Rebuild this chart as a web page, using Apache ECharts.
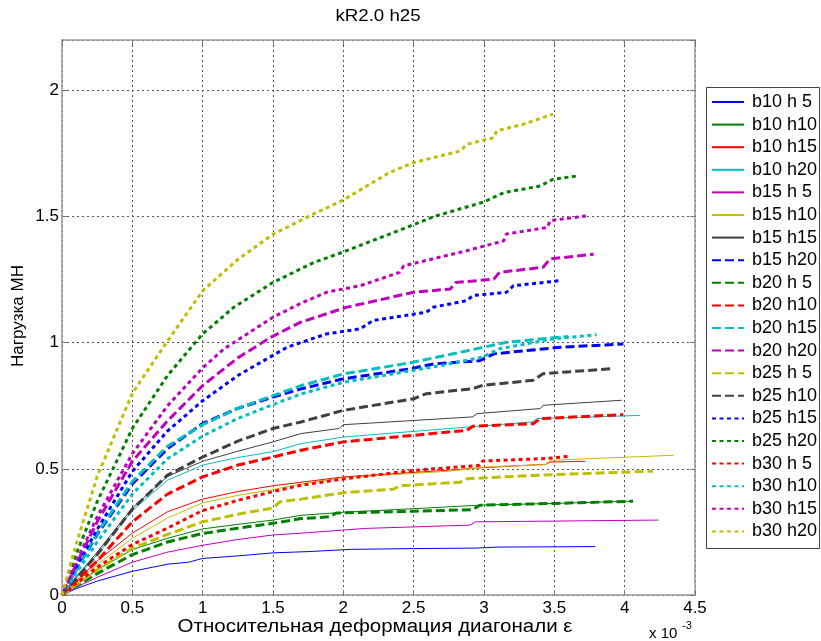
<!DOCTYPE html>
<html><head><meta charset="utf-8">
<script src="https://cdn.jsdelivr.net/npm/echarts@6/dist/echarts.min.js"></script>
<style>html,body{margin:0;padding:0;background:#fff}#c{width:821px;height:641px}</style>
</head><body><div id="c"></div>
<script>
const xTicks = [0,0.5,1,1.5,2,2.5,3,3.5,4,4.5];
const yTicks = [0,0.5,1,1.5,2];
const seriesNames = ['b10 h 5','b10 h10','b10 h15','b10 h20','b15 h 5','b15 h10','b15 h15','b15 h20','b20 h 5','b20 h10','b20 h15','b20 h20','b25 h 5','b25 h10','b25 h15','b25 h20','b30 h 5','b30 h10','b30 h15','b30 h20'];

const b10h5 = [[0,0],[0.1,0.025],[0.25,0.055],[0.5,0.094],[0.75,0.122],[0.9,0.13],[1.0,0.145],[1.25,0.155],[1.5,0.167],[1.75,0.172],[2.06,0.181],[2.5,0.184],[2.95,0.186],[3.1,0.19],[3.5,0.191],[3.79,0.192]];
const b10h10 = [[0,0],[0.1,0.04],[0.25,0.1],[0.5,0.18],[0.75,0.225],[1.0,0.262],[1.25,0.28],[1.5,0.297],[1.7,0.316],[2.0,0.328],[2.6,0.345],[3.0,0.357],[3.5,0.363],[4.04,0.372]];
const b10h15 = [[0,0],[0.1,0.055],[0.25,0.135],[0.5,0.245],[0.75,0.33],[1.0,0.38],[1.25,0.41],[1.5,0.433],[1.7,0.447],[2.0,0.468],[2.73,0.494],[3.0,0.505],[3.44,0.518],[3.47,0.527],[3.72,0.53]];
const b10h20 = [[0,0],[0.1,0.065],[0.25,0.16],[0.5,0.335],[0.75,0.455],[1.0,0.515],[1.25,0.545],[1.5,0.568],[1.7,0.6],[2.0,0.626],[2.73,0.659],[3.35,0.686],[3.37,0.699],[4.11,0.712]];
const b15h5 = [[0,0],[0.1,0.03],[0.25,0.07],[0.5,0.13],[0.75,0.17],[1.0,0.197],[1.25,0.22],[1.5,0.238],[1.7,0.245],[2.16,0.264],[2.9,0.277],[2.94,0.29],[3.5,0.293],[4.24,0.297]];
const b15h10 = [[0,0],[0.1,0.05],[0.25,0.12],[0.5,0.225],[0.75,0.305],[1.0,0.365],[1.25,0.395],[1.5,0.418],[1.7,0.44],[2.0,0.465],[2.76,0.491],[3.02,0.508],[3.44,0.517],[3.47,0.534],[4.35,0.554]];
const b15h15 = [[0,0],[0.1,0.07],[0.25,0.17],[0.5,0.345],[0.75,0.47],[1.0,0.53],[1.25,0.57],[1.5,0.607],[1.7,0.64],[1.97,0.66],[2.0,0.675],[2.92,0.706],[2.95,0.719],[3.4,0.739],[3.42,0.752],[3.98,0.772]];
const b15h20 = [[0,0],[0.1,0.1],[0.25,0.24],[0.5,0.44],[0.75,0.58],[1.0,0.68],[1.25,0.74],[1.5,0.785],[1.7,0.817],[2.0,0.857],[2.47,0.896],[2.64,0.916],[2.97,0.929],[3.07,0.956],[3.54,0.982],[3.99,0.995]];
const b20h5 = [[0,0],[0.1,0.035],[0.25,0.085],[0.5,0.16],[0.75,0.21],[1.0,0.244],[1.25,0.265],[1.5,0.284],[1.7,0.303],[1.9,0.31],[1.95,0.325],[2.5,0.332],[2.92,0.338],[2.97,0.356],[3.5,0.363],[4.06,0.372]];
const b20h10 = [[0,0],[0.1,0.055],[0.25,0.135],[0.5,0.29],[0.75,0.4],[1.0,0.468],[1.25,0.515],[1.5,0.547],[1.7,0.574],[2.0,0.607],[2.5,0.633],[2.88,0.653],[2.92,0.669],[3.35,0.679],[3.4,0.699],[3.99,0.715]];
const b20h15 = [[0,0],[0.1,0.1],[0.25,0.245],[0.5,0.45],[0.75,0.59],[1.0,0.675],[1.25,0.74],[1.5,0.79],[1.7,0.83],[2.0,0.876],[2.5,0.923],[2.78,0.956],[3.16,1.002],[3.6,1.025]];
const b20h20 = [[0,0],[0.1,0.12],[0.25,0.29],[0.5,0.53],[0.75,0.69],[1.0,0.83],[1.25,0.94],[1.48,1.02],[1.69,1.08],[2.02,1.14],[2.5,1.2],[2.76,1.213],[2.8,1.239],[3.07,1.252],[3.11,1.279],[3.42,1.299],[3.47,1.332],[3.78,1.351]];
const b25h5 = [[0,0],[0.1,0.04],[0.25,0.1],[0.5,0.185],[0.75,0.24],[1.0,0.29],[1.25,0.32],[1.5,0.345],[1.55,0.37],[1.7,0.38],[2.0,0.405],[2.36,0.42],[2.4,0.433],[2.83,0.447],[2.88,0.461],[3.35,0.474],[4.2,0.491]];
const b25h10 = [[0,0],[0.1,0.065],[0.25,0.16],[0.5,0.34],[0.75,0.475],[1.0,0.547],[1.25,0.61],[1.5,0.66],[1.7,0.686],[2.0,0.732],[2.5,0.778],[2.59,0.798],[2.92,0.818],[2.99,0.831],[3.35,0.851],[3.42,0.877],[3.9,0.897]];
const b25h15 = [[0,0],[0.1,0.11],[0.25,0.26],[0.5,0.49],[0.75,0.65],[1.0,0.77],[1.25,0.87],[1.6,0.982],[1.88,1.035],[2.12,1.055],[2.21,1.088],[2.59,1.121],[2.64,1.141],[2.88,1.167],[2.92,1.187],[3.16,1.2],[3.21,1.226],[3.54,1.246]];
const b25h20 = [[0,0],[0.1,0.16],[0.25,0.37],[0.5,0.66],[0.75,0.87],[1.0,1.035],[1.22,1.14],[1.5,1.239],[1.79,1.318],[2.0,1.36],[2.45,1.457],[2.66,1.503],[3.0,1.558],[3.14,1.595],[3.4,1.621],[3.49,1.648],[3.66,1.661]];
const b30h5 = [[0,0],[0.1,0.045],[0.25,0.11],[0.5,0.2],[0.75,0.265],[1.0,0.335],[1.25,0.375],[1.5,0.41],[1.7,0.435],[2.0,0.46],[2.5,0.494],[2.97,0.514],[2.99,0.531],[3.44,0.541],[3.61,0.55]];
const b30h10 = [[0,0],[0.1,0.085],[0.25,0.21],[0.5,0.4],[0.75,0.54],[1.0,0.63],[1.25,0.7],[1.5,0.755],[1.7,0.797],[2.0,0.843],[2.69,0.909],[2.99,0.943],[3.11,0.976],[3.49,1.015],[3.8,1.032]];
const b30h15 = [[0,0],[0.1,0.13],[0.25,0.31],[0.5,0.56],[0.75,0.75],[1.0,0.9],[1.15,0.975],[1.5,1.101],[1.69,1.154],[1.88,1.2],[2.12,1.226],[2.4,1.279],[2.43,1.305],[2.88,1.365],[3.14,1.404],[3.16,1.431],[3.45,1.457],[3.47,1.484],[3.73,1.503]];
const b30h20 = [[0,0],[0.1,0.2],[0.25,0.47],[0.5,0.8],[0.73,0.99],[1.0,1.206],[1.25,1.33],[1.5,1.43],[1.75,1.5],[2.0,1.566],[2.19,1.629],[2.33,1.675],[2.5,1.714],[2.83,1.76],[2.88,1.787],[3.07,1.813],[3.09,1.84],[3.28,1.866],[3.49,1.906]];

const allData = [b10h5,b10h10,b10h15,b10h20,b15h5,b15h10,b15h15,b15h20,b20h5,b20h10,b20h15,b20h20,b25h5,b25h10,b25h15,b25h20,b30h5,b30h10,b30h15,b30h20];
const colorCycle = ['#0000ff','#008000','#ff0000','#00bfbf','#bf00bf','#bfbf00','#404040'];
const styleCycle = ['solid','dashed','dotted'];

const FONT = 'Liberation Sans, Arial, sans-serif';
const chart = echarts.init(document.getElementById('c'), null, {renderer:'canvas'});

const series = allData.map((d,i)=>{
  const st = styleCycle[Math.floor(i/7)];
  const type = st==='solid' ? 'solid' : (st==='dashed' ? [9,4] : [4,3.5]);
  return {
    name: seriesNames[i], type:'line', data:d, symbol:'none', animation:false,
    lineStyle:{color:colorCycle[i%7], width: st==='solid'?1:3, type:type, cap:'butt'},
    itemStyle:{color:colorCycle[i%7]}
  };
});

const grid = {left:62, top:40, right:126, bottom:46, show:false};
const axisLab = {color:'#000', fontSize:17, fontFamily:FONT};
chart.setOption({
  backgroundColor:'#fff',
  animation:false,
  grid: grid,
  xAxis:[{
    type:'value', min:xTicks[0], max:xTicks[xTicks.length-1], interval:0.5,
    axisLine:{show:true, onZero:false, lineStyle:{color:'#999', width:1.5}},
    axisTick:{show:true, inside:true, length:5, lineStyle:{color:'#777'}},
    axisLabel:Object.assign({margin:5, formatter:v=>String(v)}, axisLab),
    splitLine:{show:true, lineStyle:{color:'#555', type:[2,3], width:1}}
  },{
    type:'value', position:'top', min:0, max:4.5, interval:0.5,
    axisLine:{show:true, onZero:false, lineStyle:{color:'#999', width:1.5}},
    axisTick:{show:true, inside:true, length:5, lineStyle:{color:'#777'}},
    axisLabel:{show:false}, splitLine:{show:false}
  }],
  yAxis:[{
    type:'value', min:yTicks[0], max:2.2, interval:0.5,
    axisLine:{show:true, onZero:false, lineStyle:{color:'#999', width:1.5}},
    axisTick:{show:true, inside:true, length:5, lineStyle:{color:'#777'}},
    axisLabel:Object.assign({margin:3, showMaxLabel:false, formatter:v=>String(v)}, axisLab),
    splitLine:{show:true, lineStyle:{color:'#555', type:[2,3], width:1}}
  },{
    type:'value', position:'right', min:0, max:2.2, interval:0.5,
    axisLine:{show:true, onZero:false, lineStyle:{color:'#999', width:1.5}},
    axisTick:{show:true, inside:true, length:5, lineStyle:{color:'#777'}},
    axisLabel:{show:false}, splitLine:{show:false}
  }],
  legend:{
    orient:'vertical', left:706, top:88, padding:[5,0,0,5],
    itemWidth:32, itemHeight:14, itemGap:4.6,
    itemStyle:{opacity:0},
    textStyle:{color:'#000', fontSize:18, fontFamily:FONT, padding:[0,0,0,3]},
    data: seriesNames, selectedMode:false
  },
  graphic:[
    {type:'rect', shape:{x:706.5, y:87.5, width:113, height:461}, style:{fill:null, stroke:'#444', lineWidth:1}, silent:true, z:-1},
    {type:'text', x:378, y:16, scaleX:1.1, style:{text:'kR2.0 h25', font:'17px '+FONT, fill:'#000', textAlign:'center', textVerticalAlign:'middle'}},
    {type:'text', x:375, y:627, scaleX:1.14, style:{text:'Относительная деформация диагонали ε', font:'18px '+FONT, fill:'#000', textAlign:'center', textVerticalAlign:'middle'}},
    {type:'text', x:18, y:316, rotation:Math.PI/2, style:{text:'Нагрузка МН', font:'17px '+FONT, fill:'#000', textAlign:'center', textVerticalAlign:'middle'}},
    {type:'text', x:649, y:634, style:{text:'x 10', font:'15px '+FONT, fill:'#000', textAlign:'left', textVerticalAlign:'middle'}},
    {type:'text', x:682, y:626, style:{text:'-3', font:'11px '+FONT, fill:'#000', textAlign:'left', textVerticalAlign:'middle'}}
  ],
  series: series
});
</script></body></html>
